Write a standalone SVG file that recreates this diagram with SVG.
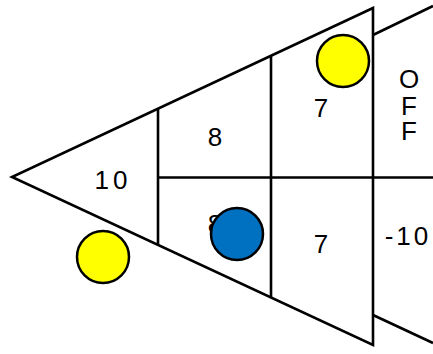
<svg xmlns="http://www.w3.org/2000/svg" width="433" height="354" viewBox="0 0 433 354">
<style>
.ln{stroke:#000;stroke-width:2.6;fill:none;stroke-linejoin:miter}
.t{font-family:"Liberation Sans",Arial,sans-serif;font-size:26px;fill:#000;text-anchor:middle}
.ball{stroke:#000;stroke-width:2.5}
</style>
<rect width="433" height="354" fill="#fff"/>
<g id="connectors">
<path class="ln" d="M373,8 L12,177 L373,345 Z"/>
<path class="ln" d="M373,35 L433,6"/>
<path class="ln" d="M373,315 L433,343"/>
<path class="ln" d="M158,108 L158,245"/>
<path class="ln" d="M271,55 L271,298"/>
<path class="ln" d="M158,177.5 L433,177.5"/>
</g>
<g id="labels">
<text class="t" x="113" y="189" letter-spacing="4">10</text>
<text class="t" x="215" y="146">8</text>
<text class="t" x="321" y="117">7</text>
<text class="t" x="215" y="233">8</text>
<text class="t" x="321" y="253">7</text>
<text class="t" x="409" y="88">O</text>
<text class="t" x="409" y="115">F</text>
<text class="t" x="409" y="140">F</text>
<text class="t" x="408" y="245" letter-spacing="3">-10</text>
</g>
<g id="yellow-top"><circle class="ball" cx="343" cy="61" r="26" fill="#ffff00"/></g>
<g id="yellow-bottom"><circle class="ball" cx="103" cy="257" r="26" fill="#ffff00"/></g>
<g id="blue"><circle class="ball" cx="237" cy="234" r="26" fill="#0070c0"/></g>
</svg>
